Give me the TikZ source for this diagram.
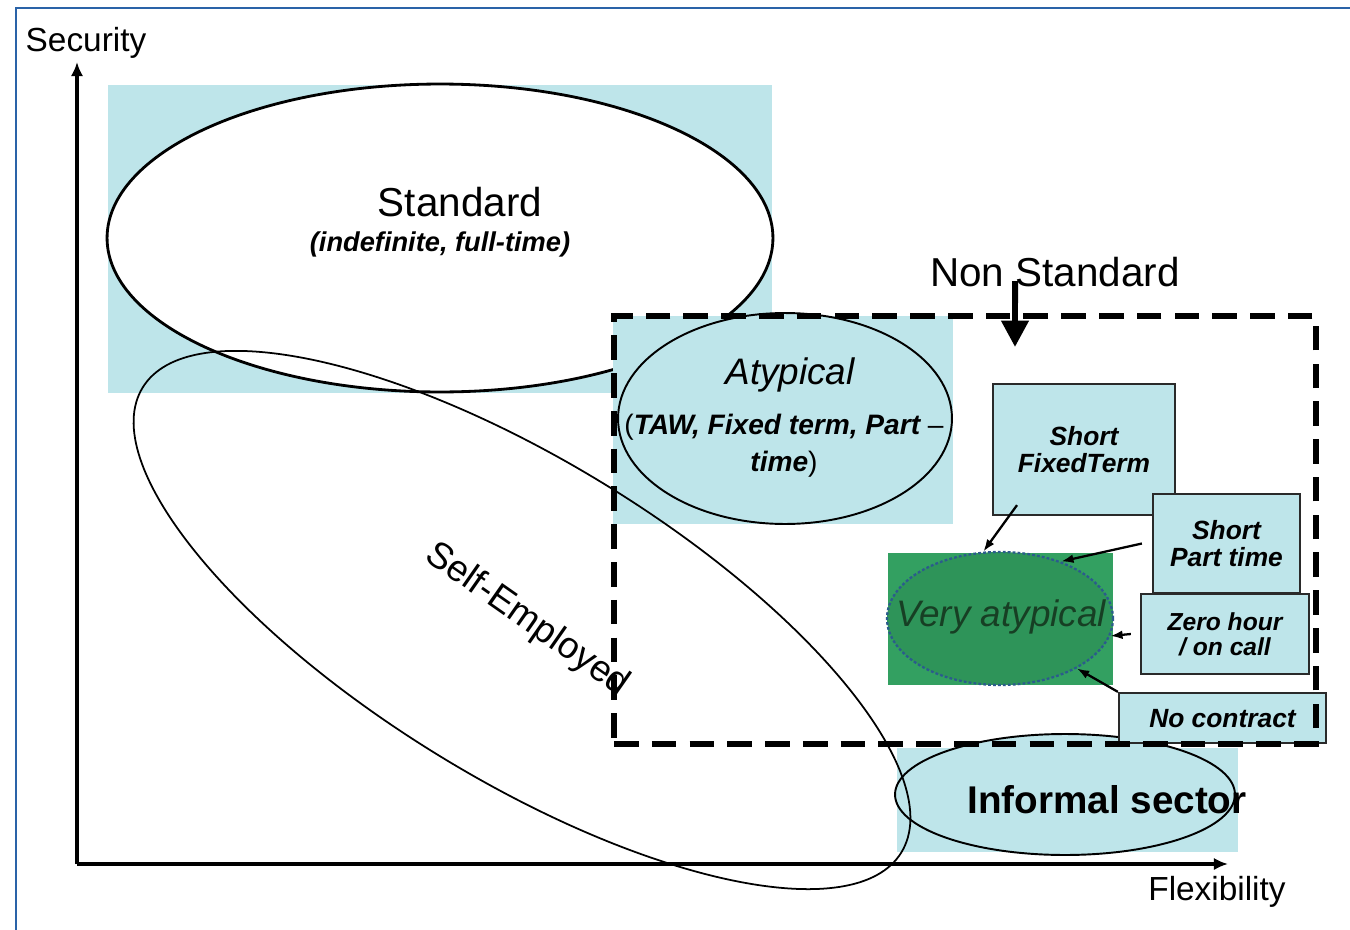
\documentclass[tikz,border=0pt]{standalone}
\usepackage{fontspec}
\setmainfont{Liberation Sans}
\usetikzlibrary{arrows.meta,shapes.geometric,calc}
\definecolor{paleteal}{HTML}{BEE5EA}
\definecolor{framecol}{HTML}{2A63A8}
\definecolor{vagreen}{HTML}{33A061}
\definecolor{vaoval}{HTML}{2E9459}
\definecolor{vatext}{HTML}{173F24}
\definecolor{vadot}{HTML}{2B5C8C}
\definecolor{boxline}{HTML}{2A2A2A}
\newcommand{\fsz}[1]{\fontsize{#1}{#1}\selectfont}
\begin{document}
\begin{tikzpicture}[x=0.02cm,y=-0.02cm,
  band/.style={fill=paleteal,draw=none,inner sep=0pt},
  oval/.style={ellipse,inner sep=0pt,draw=black},
  axisline/.style={line width=1.8pt,-{Latex[length=8pt,width=7pt]}},
  catbox/.style={rectangle,draw=boxline,line width=1.3pt,fill=paleteal,
    inner sep=0pt,align=center,font=\fsz{15}\bfseries\itshape,text depth=0pt},
  ptr/.style={line width=1.3pt,-{Latex[length=7pt,width=5pt]}},
  nsdash/.style={line width=3.3pt,dash pattern=on 14pt off 7.5pt},
  bigarrow/.style={line width=3.4pt,-{Triangle[length=15pt,width=15pt]}}]
\useasboundingbox (0,0) rectangle (1350,930);
\fill[white] (0,0) rectangle (1350,930);

% frame
\draw[framecol,line width=1.2pt] (16,930) -- (16,8) -- (1350,8);

% standard employment
\node[band,minimum width=13.28cm,minimum height=6.16cm] (stdband) at (440,239) {};
\node[oval,fill=white,line width=1.6pt,minimum width=13.32cm,minimum height=6.16cm] (stdoval) at (440,238) {};
\node[font=\fsz{23}] (stdlbl) at (460,202) {Standard};
\node[font=\fsz{15.5}\bfseries\itshape] (stdsub) at (440,244) {(indefinite, full-time)};

% atypical
\node[band,minimum width=6.8cm,minimum height=4.16cm] (atyband) at (783,420) {};
\node[oval,fill=paleteal,line width=1.1pt,minimum width=6.68cm,minimum height=4.22cm] (atyoval) at (785,418.5) {};
\node[font=\fsz{21}\itshape] (atylbl) at (790,375) {Atypical};
\node[font=\fsz{16}\bfseries\itshape,align=center] (atysub) at (784,446)
  {{\normalfont(}TAW, Fixed term, Part {\normalfont–}\\[5pt]time{\normalfont)}};

% informal sector
\node[band,minimum width=6.82cm,minimum height=2.08cm] (infband) at (1067.5,800) {};
\node[oval,fill=paleteal,line width=1.1pt,minimum width=6.8cm,minimum height=2.42cm] (infoval) at (1065,794.5) {};
\node[font=\fsz{22}\bfseries] (inflbl) at (1107,800) {Informal sector};

% very atypical
\node[rectangle,fill=vagreen,inner sep=0pt,minimum width=4.5cm,minimum height=2.64cm] (vaband) at (1000.5,619) {};
\node[ellipse,fill=vaoval,draw=vadot,line width=1.3pt,dash pattern=on 1.6pt off 1.2pt,
  inner sep=0pt,minimum width=4.52cm,minimum height=2.66cm] (va) at (1000,618.5) {};
\node[font=\fsz{21}\itshape,text=vatext] (valbl) at (1001,617) {Very atypical};

% categories of very atypical work
\node[catbox,minimum width=3.64cm,minimum height=2.62cm] (sft) at (1084,449.5) {Short\\FixedTerm};
\node[catbox,minimum width=2.94cm,minimum height=1.98cm] (spt) at (1226.5,543.5) {Short\\Part time};
\node[catbox,minimum width=3.36cm,minimum height=1.6cm,font=\fsz{14}\bfseries\itshape] (zh) at (1225,634) {Zero hour\\/ on call};
\node[catbox,minimum width=4.14cm,minimum height=1.0cm] (nc) at (1222.5,718) {No contract};

\draw[ptr] ([shift={(-1.34cm,0.22cm)}]sft.south) -- (va.104);
\draw[ptr] ([xshift=-0.2cm]spt.west) -- (va.43);
\draw[ptr] ([xshift=-0.18cm]zh.west) -- (va.351);
\draw[ptr] (nc.north west) -- (va.327);

% self-employed
\node[oval,line width=1pt,minimum width=17.8cm,minimum height=6.36cm,rotate=-31.5] (selfoval) at (522,620) {};
\node[font=\fsz{21},rotate=-35] (selflbl) at (527,620) {Self-Employed};

% non-standard region
\node[rectangle,nsdash,draw=black,inner sep=0pt,minimum width=14.04cm,minimum height=8.56cm] (nsbox) at (965,530) {};
\node[font=\fsz{23}] (nslbl) at (1055,272) {Non Standard};
\coordinate (nstip) at (1015,347);
\draw[bigarrow] ([shift={(-0.8cm,-0.18cm)}]nslbl.center) -- (nstip);

% axes
\coordinate (origin) at (77,864);
\coordinate (ytop) at (77,62);
\coordinate (xend) at (1228,864);
\draw[axisline] (origin) -- (ytop);
\draw[axisline] (origin) -- (xend);
\node[font=\fsz{19}] (seclbl) at (86,43) {Security};
\node[font=\fsz{19}] (flexlbl) at (1217,892) {Flexibility};
\end{tikzpicture}
\end{document}
